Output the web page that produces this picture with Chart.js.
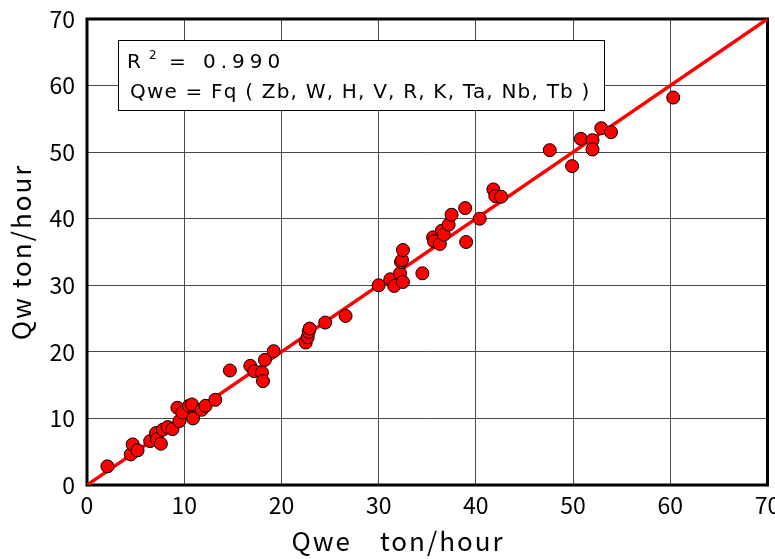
<!DOCTYPE html>
<html>
<head>
<meta charset="utf-8">
<script src="https://cdn.jsdelivr.net/npm/chart.js@4/dist/chart.umd.min.js"></script>
<style>
  html, body { margin: 0; padding: 0; background: #fff; }
  #wrap { width: 775px; height: 559px; }
</style>
</head>
<body>
<div id="wrap"><canvas id="myChart" width="775" height="559"></canvas></div>
<script>
// observed vs. estimated sediment rate (ton/hour)
const qwe = [2.1, 4.5, 4.7, 5.2, 6.5, 7.1, 7.2, 7.6, 7.8, 8.3, 8.8, 9.5, 9.3, 9.8, 10.5, 10.8, 10.9, 11.8, 12.2, 13.2,
  14.7, 16.8, 17.2, 18.0, 18.1, 18.3, 19.2, 22.5, 22.7, 22.8, 22.9, 24.5, 26.6, 30.0, 31.2, 31.6, 32.2, 32.3, 32.4, 32.5,
  32.5, 34.5, 35.6, 35.7, 36.3, 36.5, 36.7, 37.2, 37.5, 38.9, 39.0, 40.4, 41.8, 42.0, 42.6, 47.6, 49.9, 50.8, 52.0, 52.0,
  52.9, 53.9, 60.3];
const qw = [2.8, 4.6, 6.1, 5.2, 6.6, 7.8, 6.9, 6.2, 8.3, 8.7, 8.4, 9.6, 11.6, 10.9, 11.9, 12.1, 10.0, 11.3, 11.9, 12.8,
  17.2, 17.9, 17.1, 16.9, 15.6, 18.8, 20.1, 21.4, 22.2, 23.0, 23.5, 24.4, 25.4, 30.0, 30.9, 29.9, 31.8, 33.5, 33.8, 35.3,
  30.5, 31.8, 37.2, 36.6, 36.2, 38.2, 37.6, 39.1, 40.6, 41.6, 36.5, 40.0, 44.4, 43.4, 43.3, 50.3, 47.9, 52.0, 51.8, 50.4,
  53.6, 53.0, 58.2];
const axisMin = 0;
const axisMax = 70;
const tickStep = 10;
const r2 = '0.990';
const formulaText = 'Qwe = Fq ( Zb, W, H, V, R, K, Ta, Nb, Tb )';
const xTitle = 'Qwe　ton/hour';
const yTitle = 'Qw ton/hour';

const FONT = '"Noto Sans CJK JP", "Noto Sans", sans-serif';
const BOXFONT = '"DejaVu Sans", sans-serif';

const points = qwe.map((x, i) => ({ x: x, y: qw[i] }));

// thick black frame around the plot area
const framePlugin = {
  id: 'frame',
  beforeDatasetsDraw(chart) {
    const { ctx, chartArea } = chart;
    ctx.save();
    ctx.strokeStyle = '#000';
    ctx.lineWidth = 3;
    ctx.strokeRect(chartArea.left, chartArea.top, chartArea.width, chartArea.height);
    ctx.restore();
  }
};

// axis titles
const titlesPlugin = {
  id: 'titles',
  afterDraw(chart) {
    const { ctx, chartArea } = chart;
    ctx.save();
    ctx.fillStyle = '#000';
    ctx.font = '26px ' + FONT;
    ctx.letterSpacing = '2px';
    ctx.textAlign = 'center';
    ctx.textBaseline = 'middle';
    ctx.fillText(xTitle, chartArea.left + 311, 541);
    ctx.translate(21, (chartArea.top + chartArea.bottom) / 2);
    ctx.rotate(-Math.PI / 2);
    ctx.fillText(yTitle, 0, 0);
    ctx.restore();
  }
};

// white box with R^2 and the formula
const noteBox = {
  id: 'noteBox',
  afterDraw(chart) {
    const { ctx, chartArea } = chart;
    const x0 = chartArea.left + 31;
    const y0 = chartArea.top + 21;
    ctx.save();
    ctx.fillStyle = '#fff';
    ctx.fillRect(x0, y0, 486, 70);
    ctx.strokeStyle = '#000';
    ctx.lineWidth = 1;
    ctx.strokeRect(x0 + 0.5, y0 + 0.5, 486, 70);

    ctx.fillStyle = '#000';
    ctx.textBaseline = 'alphabetic';
    ctx.font = '20px ' + BOXFONT;
    ctx.fillText('R', x0 + 9, y0 + 28);
    ctx.font = '12px ' + BOXFONT;
    ctx.fillText('2', x0 + 31, y0 + 19);
    ctx.font = '20px ' + BOXFONT;
    ctx.fillText('=', x0 + 51, y0 + 28);
    ctx.letterSpacing = '5px';
    ctx.fillText(r2, x0 + 85, y0 + 28);
    ctx.letterSpacing = '1.2px';
    ctx.fillText(formulaText, x0 + 12, y0 + 58);
    ctx.restore();
  }
};

function noEdgePadding(scale) {
  scale.paddingLeft = 0;
  scale.paddingRight = 0;
  scale.paddingTop = 0;
  scale.paddingBottom = 0;
}

const ctx = document.getElementById('myChart').getContext('2d');
const myChart = new Chart(ctx, {
  type: 'scatter',
  data: {
    datasets: [{
      type: 'line',
      data: [{ x: axisMin, y: axisMin }, { x: axisMax, y: axisMax }],
      borderColor: '#ff0000',
      borderWidth: 3.5,
      pointRadius: 0,
      order: 2
    }, {
      data: points,
      backgroundColor: '#ff0000',
      borderColor: '#000',
      borderWidth: 1,
      pointRadius: 6.5,
      order: 1
    }]
  },
  options: {
    responsive: false,
    animation: false,
    layout: { padding: { top: 19, right: 0, left: 0, bottom: 0 } },
    plugins: {
      legend: { display: false },
      tooltip: { enabled: false }
    },
    scales: {
      x: {
        type: 'linear',
        min: axisMin,
        max: axisMax,
        afterFit(scale) { scale.height = 74; noEdgePadding(scale); },
        border: { display: false },
        grid: { color: '#4a4a4a', lineWidth: 1, drawTicks: false },
        ticks: { stepSize: tickStep, padding: 6, color: '#000', font: { family: FONT, size: 23 }, maxRotation: 0 }
      },
      y: {
        type: 'linear',
        min: axisMin,
        max: axisMax,
        afterFit(scale) { scale.width = 87; noEdgePadding(scale); },
        border: { display: false },
        grid: { color: '#4a4a4a', lineWidth: 1, drawTicks: false },
        ticks: { stepSize: tickStep, padding: 12, color: '#000', font: { family: FONT, size: 23 } }
      }
    }
  },
  plugins: [framePlugin, noteBox, titlesPlugin]
});
</script>
</body>
</html>
